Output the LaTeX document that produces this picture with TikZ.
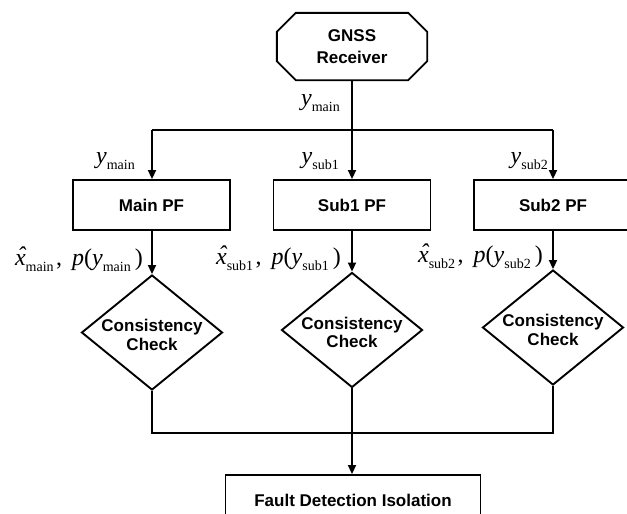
\documentclass[tikz,border=0pt]{standalone}
\usepackage{fontspec}
\setmainfont{Liberation Serif}
\newfontfamily\arialfont{Liberation Sans}
\usetikzlibrary{arrows.meta,shapes.geometric}
\newcommand{\sv}[2]{#1\raisebox{-6pt}{\fontsize{14}{14}\selectfont #2}}
\newcommand{\xh}{\textit{x\llap{\raisebox{1.5pt}{\char"02C6}\kern0.3pt}}}
\newcommand{\pairlab}[1]{\sv{\xh}{#1}\kern2.5pt,\kern10pt\textit{p}(\sv{\textit{y}}{#1}\kern4pt)}
\tikzset{
  ln/.style={line width=1.9pt},
  arr/.style={line width=1.9pt,-{Triangle[length=9pt,width=8pt]}},
  box/.style={draw,line width=1.9pt,minimum width=157pt,minimum height=50pt,inner sep=0pt,
    font=\arialfont\bfseries\fontsize{17}{19}\selectfont},
  dia/.style={draw,line width=1.9pt,shape=diamond,minimum width=141pt,minimum height=115pt,inner sep=0pt},
  diatext/.style={align=center,inner sep=0pt,font=\arialfont\bfseries\fontsize{17}{18.5}\selectfont},
  lab/.style={inner sep=0pt,font=\fontsize{24}{26}\selectfont},
}
\begin{document}
\begin{tikzpicture}[x=1pt,y=-1pt]
\useasboundingbox (0,0) rectangle (627,514);
% GNSS receiver (octagon)
\node[minimum width=150pt,minimum height=67pt,inner sep=0pt,align=center,
  font=\arialfont\bfseries\fontsize{17}{22}\selectfont] (gnss) at (352,46.5) {GNSS\\Receiver};
\draw[ln] ([xshift=19pt]gnss.north west) -- ([xshift=-19pt]gnss.north east)
  -- ([yshift=-19pt]gnss.north east) -- ([yshift=19pt]gnss.south east)
  -- ([xshift=-19pt]gnss.south east) -- ([xshift=19pt]gnss.south west)
  -- ([yshift=19pt]gnss.south west) -- ([yshift=-19pt]gnss.north west) -- cycle;
% PF boxes
\node[box] (main) at (151.5,205) {Main PF};
\node[box] (sub1) at (352,205) {Sub1 PF};
\node[box,minimum width=158pt] (sub2) at (553,205) {Sub2 PF};
% diamonds
\node[dia] (d1) at (152,332.5) {};
\node[dia] (d2) at (352,330) {};
\node[dia] (d3) at (553,327.5) {};
\node[diatext] (t1) at (152,335) {Consistency\\Check};
\node[diatext] (t2) at (352,332.5) {Consistency\\Check};
\node[diatext] (t3) at (553,330) {Consistency\\Check};
% FDI box
\node[box,minimum width=255pt] (fdi) at (353,500) {Fault Detection Isolation};
% connectors
\coordinate (c1) at (152,130);
\coordinate (c3) at (553,130);
\coordinate (b1) at (152,433);
\coordinate (b3) at (553,433);
\draw[ln] (c1) -- (c3);
\draw[arr] (gnss.south) -- (sub1.north);
\draw[arr] (c1) -- (main.north -| c1);
\draw[arr] (c3) -- (sub2.north);
\draw[arr] (main.south -| d1) -- (d1.north);
\draw[arr] (sub1.south) -- (d2.north);
\draw[arr] (sub2.south) -- (d3.north);
\draw[ln] (d1.south) -- (b1) -- (b3) -- (d3.south);
\draw[arr] (d2.south) -- (d2.south |- fdi.north);
% labels
\node[lab,anchor=base east] (ly0) at (340,105) {\sv{\textit{y}}{main}};
\node[lab,anchor=base east] (lym) at (135,163) {\sv{\textit{y}}{main}};
\node[lab,anchor=base east] (ly1) at (339,163) {\sv{\textit{y}}{sub1}};
\node[lab,anchor=base east] (ly2) at (548,163) {\sv{\textit{y}}{sub2}};
\node[lab,anchor=base east] (lx1) at (143,265) {\pairlab{main}};
\node[lab,anchor=base east] (lx2) at (341,264) {\pairlab{sub1}};
\node[lab,anchor=base east] (lx3) at (543,262) {\pairlab{sub2}};
\end{tikzpicture}
\end{document}
